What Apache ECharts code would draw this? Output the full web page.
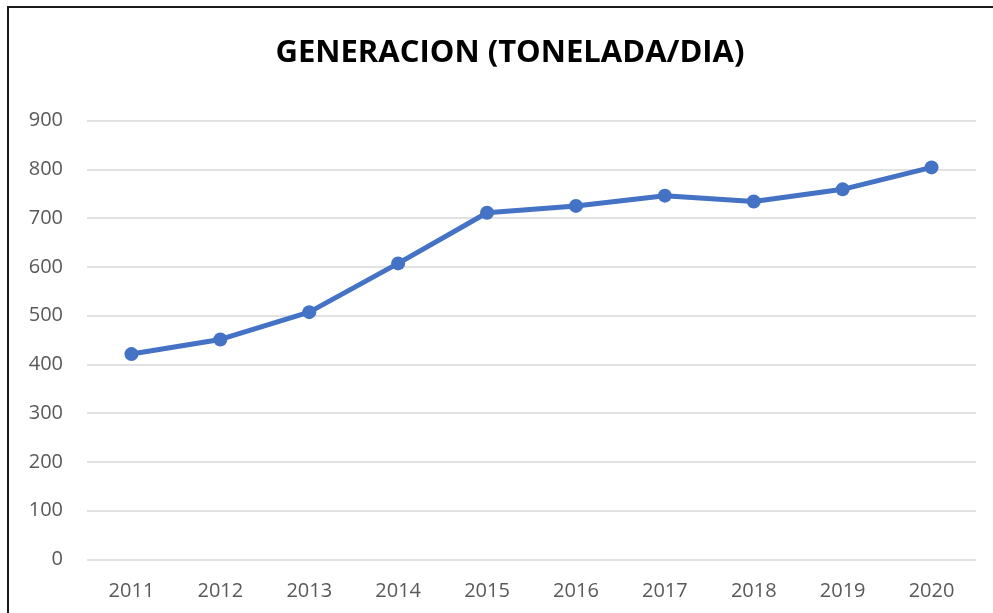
<!DOCTYPE html>
<html>
<head>
<meta charset="utf-8">
<script src="https://cdn.jsdelivr.net/npm/echarts@6/dist/echarts.min.js"></script>
<style>html,body{margin:0;padding:0;background:#fff}#c{width:993px;height:613px}</style>
</head>
<body>
<div id="c"></div>
<script>
const years = ['2011','2012','2013','2014','2015','2016','2017','2018','2019','2020'];
const generacion = [421, 451, 507, 607, 711, 725, 746, 734, 759, 804];
const yTicks = { min: 0, max: 900, interval: 100 };

const chart = echarts.init(document.getElementById('c'), null, { renderer: 'canvas' });
chart.setOption({
  animation: false,
  backgroundColor: '#fff',
  title: {
    text: 'GENERACION (TONELADA/DIA)',
    left: 505, top: 33, textAlign: 'center',
    textStyle: { fontFamily: 'Open Sans', fontWeight: 'bold', fontSize: 31, color: '#000' }
  },
  graphic: [{
    type: 'polyline',
    shape: { points: [[8, 700], [8, 7], [1000, 7]] },
    style: { stroke: '#1a1a1a', lineWidth: 2, fill: null }
  }],
  grid: { left: 87, right: 17, top: 120.6, bottom: 53.7 },
  xAxis: {
    type: 'category', data: years, boundaryGap: true,
    axisLine: { show: false }, axisTick: { show: false },
    axisLabel: { color: '#595959', fontSize: 20, fontFamily: 'Open Sans', margin: 22 }
  },
  yAxis: {
    type: 'value', min: yTicks.min, max: yTicks.max, interval: yTicks.interval,
    axisLine: { show: false }, axisTick: { show: false },
    axisLabel: { color: '#595959', fontSize: 20, fontFamily: 'Open Sans', margin: 24 },
    splitLine: { lineStyle: { color: '#d9d9d9', width: 1.5 } }
  },
  series: [{
    type: 'line', data: generacion,
    symbol: 'circle', symbolSize: 14,
    lineStyle: { color: '#4472C4', width: 5 },
    itemStyle: { color: '#4472C4' }
  }]
});
</script>
</body>
</html>
